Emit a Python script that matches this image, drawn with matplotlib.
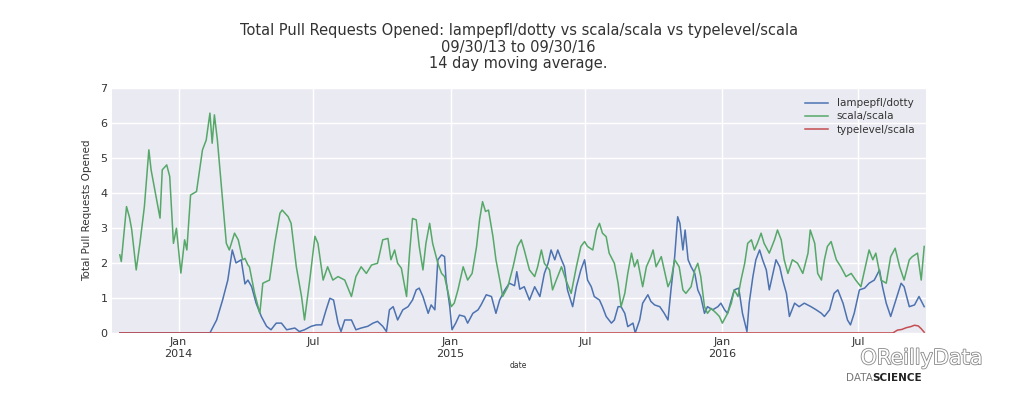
import pandas as pd
import numpy as np
import matplotlib
matplotlib.use('Agg')
from matplotlib import pyplot as plt
import matplotlib.dates as mdates
from matplotlib.ticker import FuncFormatter
import matplotlib.patheffects as pe


start = pd.Timestamp('2013-09-30')

# days since 09/30/13, 14 day moving average of pull requests opened
scala_days = [14, 16, 23, 27, 30, 36, 41, 47, 53, 56, 61, 68, 71, 77, 81, 86, 90, 96, 101, 104,
              109, 117, 125, 130, 135, 138, 141, 145, 150, 157, 161, 168, 173, 179, 182, 186, 188,
              195, 202, 206, 215, 222, 229, 232, 240, 244, 251, 258, 262, 269, 276, 280, 287, 293,
              300, 307, 316, 325, 331, 338, 345, 352, 360, 367, 374, 378, 383, 387, 392, 399, 403,
              407, 412, 416, 421, 425, 430, 434, 441, 446, 450, 454, 459, 463, 468, 475, 481, 487,
              493, 497, 501, 505, 509, 515, 519, 525, 528, 535, 542, 548, 553, 557, 564, 571, 575,
              580, 584, 591, 595, 600, 607, 613, 620, 627, 633, 638, 642, 649, 654, 658, 662, 667,
              671, 678, 683, 687, 692, 696, 701, 705, 709, 716, 721, 727, 730, 734, 741, 745, 750,
              754, 759, 765, 770, 774, 781, 786, 790, 794, 799, 803, 808, 815, 819, 823, 830, 835,
              839, 844, 848, 853, 857, 862, 866, 870, 875, 879, 886, 893, 897, 902, 906, 911, 917,
              924, 931, 938, 941, 947, 951, 956, 960, 964, 969, 976, 982, 989, 996, 1002, 1009,
              1016, 1020, 1025, 1029, 1036, 1043, 1049, 1055, 1061, 1067, 1074, 1078, 1085, 1090,
              1094]
scala_vals = [2.23, 2.04, 3.61, 3.30, 2.95, 1.80, 2.56, 3.61, 5.23, 4.66, 4.09, 3.28, 4.66, 4.80,
              4.47, 2.56, 2.99, 1.71, 2.66, 2.37, 3.94, 4.04, 5.23, 5.51, 6.28, 5.42, 6.23, 5.51,
              4.28, 2.56, 2.37, 2.85, 2.66, 2.09, 2.13, 1.94, 1.89, 1.13, 0.56, 1.42, 1.51, 2.56,
              3.42, 3.51, 3.32, 3.13, 1.89, 1.04, 0.37, 1.51, 2.76, 2.56, 1.51, 1.89, 1.51, 1.61,
              1.51, 1.04, 1.61, 1.89, 1.70, 1.94, 1.99, 2.66, 2.70, 2.09, 2.37, 1.99, 1.85, 1.04,
              2.28, 3.27, 3.23, 2.47, 1.80, 2.56, 3.13, 2.56, 1.99, 1.70, 1.61, 1.23, 0.75, 0.85,
              1.23, 1.89, 1.51, 1.70, 2.47, 3.23, 3.75, 3.47, 3.51, 2.75, 2.09, 1.42, 1.04, 1.32,
              1.89, 2.47, 2.66, 2.37, 1.80, 1.61, 1.89, 2.37, 1.99, 1.80, 1.23, 1.51, 1.89, 1.51,
              1.13, 1.89, 2.47, 2.61, 2.47, 2.37, 2.94, 3.13, 2.85, 2.75, 2.28, 1.99, 1.42, 0.75,
              1.13, 1.70, 2.28, 1.89, 2.09, 1.32, 1.89, 2.18, 2.37, 1.89, 2.18, 1.80, 1.32, 1.51,
              2.09, 1.89, 1.23, 1.13, 1.32, 1.80, 1.99, 1.61, 0.75, 0.56, 0.70, 0.56, 0.47, 0.28,
              0.56, 0.85, 1.23, 1.04, 1.51, 1.99, 2.56, 2.66, 2.37, 2.56, 2.85, 2.56, 2.28, 2.66,
              2.94, 2.66, 2.09, 1.70, 2.09, 1.99, 1.70, 2.28, 2.94, 2.56, 1.70, 1.51, 2.09, 2.47,
              2.61, 2.09, 1.89, 1.61, 1.70, 1.51, 1.32, 1.99, 2.37, 2.09, 2.28, 1.51, 1.42, 2.18,
              2.42, 1.89, 1.51, 2.09, 2.18, 2.28, 1.51, 2.47]

dotty_days = [14, 135, 144, 152, 159, 165, 170, 177, 182, 186, 191, 197, 204, 211, 217, 224, 231,
              238, 249, 255, 262, 271, 278, 285, 291, 296, 301, 307, 311, 316, 325, 331, 338, 347,
              354, 360, 367, 372, 376, 381, 387, 394, 401, 407, 412, 416, 421, 428, 432, 437, 441,
              446, 450, 452, 457, 460, 465, 470, 477, 481, 488, 495, 499, 506, 513, 519, 524, 531,
              537, 544, 547, 551, 557, 564, 571, 578, 584, 589, 593, 598, 602, 607, 611, 615, 622,
              627, 633, 638, 642, 647, 651, 658, 662, 667, 674, 678, 683, 687, 692, 696, 703, 706,
              712, 716, 723, 727, 732, 739, 745, 750, 754, 759, 763, 766, 770, 773, 777, 781, 786,
              790, 794, 799, 803, 810, 817, 821, 826, 830, 835, 839, 845, 850, 856, 859, 864, 868,
              873, 877, 882, 886, 891, 895, 900, 904, 909, 913, 920, 926, 933, 942, 949, 956, 960,
              967, 973, 978, 985, 991, 995, 1000, 1007, 1014, 1020, 1027, 1034, 1038, 1043, 1049,
              1056, 1063, 1067, 1074, 1081, 1087, 1094]
dotty_vals = [0.00, 0.00, 0.37, 0.94, 1.51, 2.37, 2.00, 2.09, 1.40, 1.51, 1.32, 0.85, 0.47, 0.19,
              0.09, 0.28, 0.28, 0.09, 0.14, 0.04, 0.09, 0.19, 0.23, 0.23, 0.66, 0.99, 0.94, 0.28,
              0.04, 0.37, 0.37, 0.09, 0.14, 0.19, 0.28, 0.33, 0.19, 0.04, 0.66, 0.75, 0.37, 0.66,
              0.75, 0.94, 1.23, 1.28, 1.04, 0.56, 0.80, 0.66, 2.09, 2.23, 2.18, 1.51, 0.75, 0.09,
              0.28, 0.51, 0.47, 0.28, 0.56, 0.66, 0.80, 1.09, 1.04, 0.56, 0.94, 1.23, 1.42, 1.35,
              1.75, 1.25, 1.32, 0.94, 1.32, 1.04, 1.70, 1.99, 2.37, 2.09, 2.37, 2.09, 1.89, 1.23,
              0.75, 1.32, 1.80, 2.09, 1.51, 1.32, 1.04, 0.94, 0.75, 0.47, 0.28, 0.37, 0.75, 0.75,
              0.56, 0.18, 0.28, 0.00, 0.37, 0.85, 1.09, 0.90, 0.80, 0.75, 0.56, 0.37, 1.23, 2.18,
              3.32, 3.13, 2.37, 2.94, 2.09, 1.89, 1.70, 1.23, 1.04, 0.56, 0.75, 0.66, 0.75, 0.85,
              0.66, 0.56, 0.94, 1.23, 1.28, 0.56, 0.04, 0.85, 1.61, 2.09, 2.37, 2.09, 1.80, 1.23,
              1.70, 2.09, 1.89, 1.51, 1.13, 0.47, 0.85, 0.75, 0.85, 0.75, 0.66, 0.56, 0.47, 0.66,
              1.13, 1.23, 0.85, 0.37, 0.23, 0.56, 1.23, 1.28, 1.42, 1.51, 1.80, 1.32, 0.85, 0.47,
              0.94, 1.42, 1.32, 0.75, 0.80, 1.04, 0.75]

typelevel_days = [14, 1052, 1058, 1064, 1070, 1076, 1081, 1086, 1090, 1094]
typelevel_vals = [0.00, 0.00, 0.08, 0.10, 0.15, 0.18, 0.22, 0.20, 0.12, 0.02]

series = [
    ('lampepfl/dotty', dotty_days, dotty_vals, '#4C72B0'),
    ('scala/scala', scala_days, scala_vals, '#55A868'),
    ('typelevel/scala', typelevel_days, typelevel_vals, '#C44E52'),
]

plt.rcParams['font.family'] = 'DejaVu Sans'

fig = plt.figure(figsize=(10.24, 4.07), dpi=100)
ax = fig.add_axes([0.109, 0.182, 0.795, 0.602])
ax.set_facecolor('#EAEAF2')
for s in ax.spines.values():
    s.set_visible(False)

for name, days, vals, col in series:
    dates = start + pd.to_timedelta(days, unit='D')
    ax.plot(dates, vals, color=col, lw=1.1, label=name)

ax.set_xlim(start + pd.Timedelta(days=3), start + pd.Timedelta(days=1096))
ax.set_ylim(0, 7)
ax.set_yticks(range(8))

ax.xaxis.set_major_locator(mdates.MonthLocator(bymonth=[1, 7]))


def fmt_date(x, pos):
    d = mdates.num2date(x)
    if d.month == 1:
        return 'Jan\n%d' % d.year
    return 'Jul'


ax.xaxis.set_major_formatter(FuncFormatter(fmt_date))
ax.grid(True, color='white', lw=1)
ax.set_axisbelow(True)
ax.tick_params(length=0, labelsize=8, colors='#333333', pad=3)

ax.set_ylabel('Total Pull Requests Opened', fontsize=7.5, color='#333333', labelpad=6)
ax.set_xlabel('date', fontsize=5.5, color='#333333', labelpad=2)

ax.set_title('Total Pull Requests Opened: lampepfl/dotty vs scala/scala vs typelevel/scala\n'
             '09/30/13 to 09/30/16\n14 day moving average.',
             fontsize=10.5, color='#333333', pad=14, linespacing=1.15)

leg = ax.legend(loc='upper right', frameon=False, fontsize=7.5, handlelength=2.2,
                borderaxespad=0.6, labelspacing=0.3)
for t in leg.get_texts():
    t.set_color('#333333')

# watermark
fig.text(0.90, 0.12, 'OReillyData', fontsize=15, color='white', ha='center', va='center',
         path_effects=[pe.withStroke(linewidth=1.2, foreground='#888888')])
t1 = fig.text(0.826, 0.071, 'DATA', fontsize=7.5, color='#777777', ha='left', va='center')
fig.canvas.draw()
bb = t1.get_window_extent().transformed(fig.transFigure.inverted())
fig.text(bb.x1, 0.071, 'SCIENCE', fontsize=7.5, color='#222222', ha='left', va='center',
         fontweight='bold')

plt.savefig('out.png', dpi=100)
